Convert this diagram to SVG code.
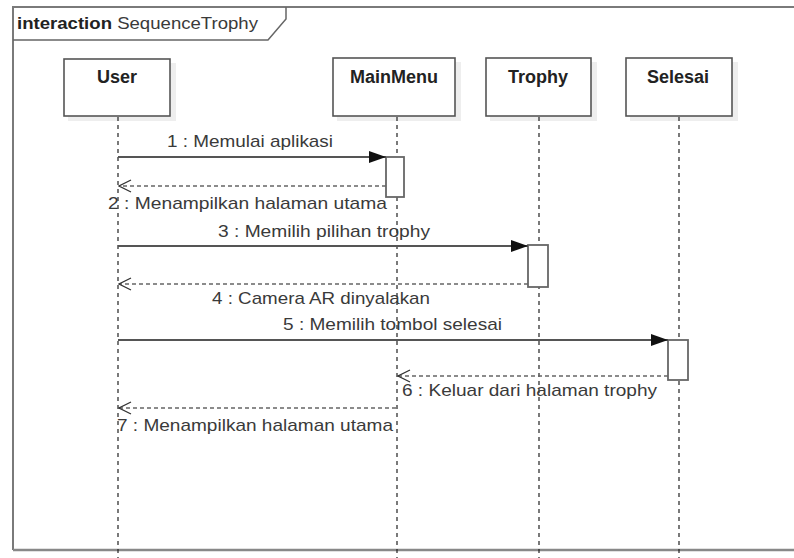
<svg xmlns="http://www.w3.org/2000/svg" width="794" height="558" viewBox="0 0 794 558">
  <defs>
    <marker id="filled" markerWidth="18" markerHeight="12" refX="17" refY="6" orient="auto" markerUnits="userSpaceOnUse">
      <path d="M0,0 L17,6 L0,12 Z" fill="#111"/>
    </marker>
    <marker id="open" markerWidth="14" markerHeight="14" refX="13" refY="7" orient="auto" markerUnits="userSpaceOnUse">
      <path d="M1,1 L13,7 L1,13" fill="none" stroke="#333" stroke-width="1.3"/>
    </marker>
  </defs>
  <style>
    text { font-family: "Liberation Sans", Arial, sans-serif; fill: #3a3a3a; }
    .lbl { font-size: 17px; }
    .head { font-size: 18px; font-weight: bold; fill: #222; text-anchor: middle; }
    .box { fill: #fff; stroke: #555; stroke-width: 1.6; }
    .shadow { fill: #eeeeee; }
    .life { stroke: #222; stroke-width: 1.2; stroke-dasharray: 4 4; fill: none; }
    .act { fill: #fff; stroke: #666; stroke-width: 1.8; }
    .call { stroke: #555; stroke-width: 2; fill: none; marker-end: url(#filled); }
    .ret { stroke: #666; stroke-width: 1.6; stroke-dasharray: 4 3; fill: none; marker-end: url(#open); }
  </style>
  <rect width="794" height="558" fill="#fff"/>

  <!-- interaction frame -->
  <g id="frame">
    <path d="M13,550 L13,7 L800,7" fill="none" stroke="#7a7a7a" stroke-width="2"/>
    <path d="M13,550 L800,550" fill="none" stroke="#888" stroke-width="2.4"/>
    <path d="M13,40 L268,40 L286,19 L286,7" fill="none" stroke="#666" stroke-width="1.5"/>
    <text x="17" y="29" font-size="17" textLength="241" lengthAdjust="spacingAndGlyphs"><tspan font-weight="bold" fill="#222">interaction</tspan> SequenceTrophy</text>
  </g>

  <!-- lifelines -->
  <g id="user">
    <rect class="shadow" x="68" y="63" width="108" height="58"/>
    <line class="life" x1="118" y1="117" x2="118" y2="558"/>
    <rect class="box" x="64" y="59" width="106" height="57"/>
    <text class="head" x="117" y="83">User</text>
  </g>
  <g id="mainmenu">
    <rect class="shadow" x="337" y="62" width="124" height="59"/>
    <line class="life" x1="397" y1="117" x2="397" y2="558"/>
    <rect class="box" x="333" y="58" width="122" height="58"/>
    <text class="head" x="394" y="83">MainMenu</text>
  </g>
  <g id="trophy">
    <rect class="shadow" x="490" y="62" width="107" height="59"/>
    <line class="life" x1="539" y1="117" x2="539" y2="558"/>
    <rect class="box" x="486" y="58" width="105" height="58"/>
    <text class="head" x="538" y="83">Trophy</text>
  </g>
  <g id="selesai">
    <rect class="shadow" x="630" y="62" width="108" height="59"/>
    <line class="life" x1="679" y1="117" x2="679" y2="558"/>
    <rect class="box" x="626" y="58" width="106" height="58"/>
    <text class="head" x="678" y="83">Selesai</text>
  </g>

  <!-- activations -->
  <g id="activations">
    <rect class="act" x="386" y="157" width="18" height="40"/>
    <rect class="act" x="528" y="245" width="20" height="42"/>
    <rect class="act" x="668" y="340" width="20" height="40"/>
  </g>

  <!-- messages -->
  <g id="connectors">
    <line class="call" x1="118" y1="157" x2="386" y2="157"/>
    <line class="ret" x1="386" y1="186" x2="119" y2="186"/>
    <line class="call" x1="118" y1="246" x2="528" y2="246"/>
    <line class="ret" x1="528" y1="284" x2="119" y2="284"/>
    <line class="call" x1="118" y1="340" x2="668" y2="340"/>
    <line class="ret" x1="668" y1="376" x2="398" y2="376"/>
    <line class="ret" x1="396" y1="408" x2="119" y2="408"/>
  </g>

  <g id="labels">
    <text class="lbl" x="167" y="147" textLength="166" lengthAdjust="spacingAndGlyphs">1 : Memulai aplikasi</text>
    <text class="lbl" x="108" y="209" textLength="279" lengthAdjust="spacingAndGlyphs">2 : Menampilkan halaman utama</text>
    <text class="lbl" x="218" y="237" textLength="212" lengthAdjust="spacingAndGlyphs">3 : Memilih pilihan trophy</text>
    <text class="lbl" x="212" y="304" textLength="218" lengthAdjust="spacingAndGlyphs">4 : Camera AR dinyalakan</text>
    <text class="lbl" x="283" y="330" textLength="219" lengthAdjust="spacingAndGlyphs">5 : Memilih tombol selesai</text>
    <text class="lbl" x="402" y="396" textLength="255" lengthAdjust="spacingAndGlyphs">6 : Keluar dari halaman trophy</text>
    <text class="lbl" x="117" y="431" textLength="276" lengthAdjust="spacingAndGlyphs">7 : Menampilkan halaman utama</text>
  </g>
</svg>
